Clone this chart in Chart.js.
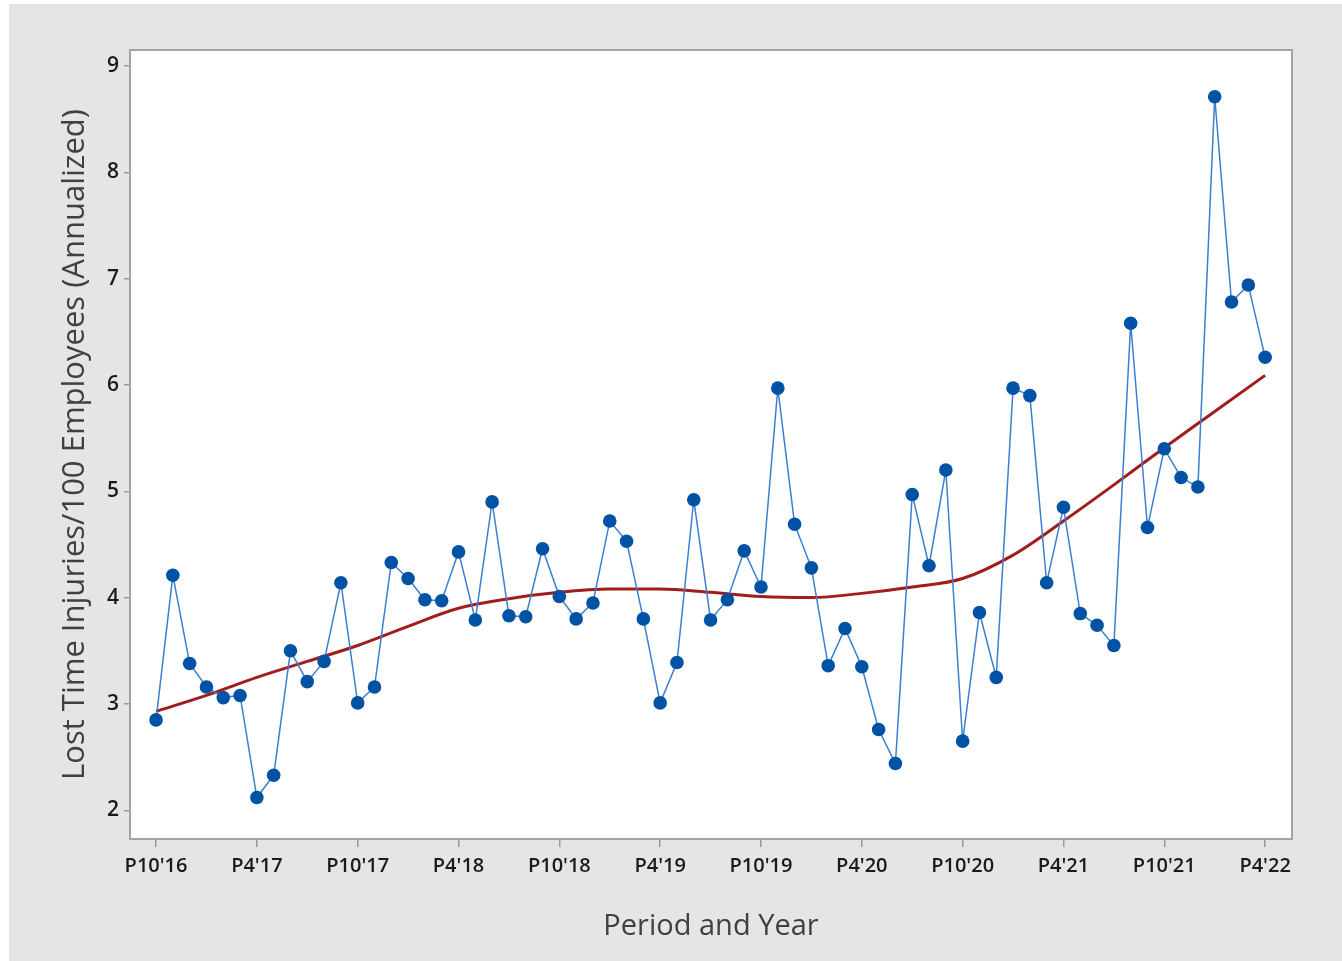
<!DOCTYPE html>
<html><head><meta charset="utf-8">
<script src="https://cdn.jsdelivr.net/npm/chart.js@4/dist/chart.umd.min.js"></script>
<style>html,body{margin:0;padding:0;background:#fff;}#wrap{width:1342px;height:961px;position:relative;}</style>
</head><body><div id="wrap"><canvas id="c"></canvas></div>
<script>
const tickLabels = ["P10'16","P4'17","P10'17","P4'18","P10'18","P4'19","P10'19","P4'20","P10'20","P4'21","P10'21","P4'22"];
const yTickValues = [2,3,4,5,6,7,8,9];
const injuryRates = [
  2.85,4.21,3.38,3.16,3.06,3.08,2.12,2.33,3.50,3.21,3.40,4.14,
  3.01,3.16,4.33,4.18,3.98,3.97,4.43,3.79,4.90,3.83,3.82,4.46,
  4.01,3.80,3.95,4.72,4.53,3.80,3.01,3.39,4.92,3.79,3.98,4.44,
  4.10,5.97,4.69,4.28,3.36,3.71,3.35,2.76,2.44,4.97,4.30,5.20,
  2.65,3.86,3.25,5.97,5.90,4.14,4.85,3.85,3.74,3.55,6.58,4.66,
  5.40,5.13,5.04,8.71,6.78,6.94,6.26
];
const trendPeriods = [0,3,6,9,12,15,18,21,24,27,30,33,36,39,42,45,48,51,54,57,60,63,66];
const trendValues  = [2.93,3.08,3.25,3.40,3.55,3.73,3.90,3.99,4.05,4.08,4.08,4.05,4.01,4.00,4.04,4.10,4.18,4.40,4.72,5.06,5.41,5.75,6.09];
const periodsPerTick = 6;

const FONT = "'Open Sans', 'Noto Sans', sans-serif";

const bgPlugin = {
  id: 'bg',
  beforeDraw(chart) {
    const {ctx, chartArea: a, width, height} = chart;
    ctx.save();
    ctx.fillStyle = '#ffffff';
    ctx.fillRect(0, 0, width, height);
    ctx.fillStyle = '#e5e5e5';
    ctx.fillRect(9, 4, width - 9, height - 4);
    ctx.fillStyle = '#ffffff';
    ctx.fillRect(a.left, a.top, a.right - a.left, a.bottom - a.top);
    ctx.restore();
  },
  afterDraw(chart) {
    const {ctx, chartArea: a} = chart;
    ctx.save();
    ctx.strokeStyle = '#a3a3a3';
    ctx.lineWidth = 2;
    ctx.strokeRect(a.left, a.top, a.right - a.left, a.bottom - a.top);
    ctx.restore();
  }
};

new Chart(document.getElementById('c'), {
  type: 'line',
  data: {
    datasets: [
      {
        label: 'Lost Time Injuries',
        data: injuryRates.map((v, i) => ({x: i, y: v})),
        borderColor: '#3b80cf',
        borderWidth: 1.5,
        pointRadius: 6.8,
        pointBackgroundColor: '#0052a4',
        pointBorderWidth: 0,
        tension: 0,
        order: 0
      },
      {
        label: 'Trend',
        data: trendPeriods.map((p, i) => ({x: p, y: trendValues[i]})),
        borderColor: '#a11d1d',
        borderWidth: 3,
        pointRadius: 0,
        cubicInterpolationMode: 'monotone',
        order: 1
      }
    ]
  },
  options: {
    responsive: true,
    maintainAspectRatio: false,
    animation: false,
    layout: {padding: {left: 9, top: 50, right: 50, bottom: 0}},
    plugins: {legend: {display: false}, tooltip: {enabled: false}},
    scales: {
      x: {
        type: 'linear',
        min: -1.55,
        max: 67.6,
        afterBuildTicks(axis) {
          axis.ticks = tickLabels.map((l, i) => ({value: i * periodsPerTick}));
        },
        afterFit(scale) { scale.height = 122; },
        ticks: {
          autoSkip: false,
          maxRotation: 0,
          padding: 7,
          color: '#1a1a1a',
          font: {family: FONT, size: 20, weight: '600'},
          callback: (v) => tickLabels[Math.round(v / periodsPerTick)]
        },
        grid: {drawOnChartArea: false, drawTicks: true, tickLength: 8, color: '#9a9a9a', lineWidth: 1.5},
        border: {display: false},
        title: {
          display: true,
          text: 'Period and Year',
          color: '#404040',
          font: {family: FONT, size: 29, weight: '500'},
          padding: {top: 0, bottom: 17}
        }
      },
      y: {
        type: 'linear',
        min: 1.73,
        max: 9.15,
        afterBuildTicks(axis) {
          axis.ticks = yTickValues.map(v => ({value: v}));
        },
        afterFit(scale) { scale.width = 121; },
        ticks: {
          padding: 5,
          color: '#1a1a1a',
          font: {family: FONT, size: 21, weight: '600'}
        },
        grid: {drawOnChartArea: false, drawTicks: true, tickLength: 6, color: '#9a9a9a', lineWidth: 1.5},
        border: {display: false},
        title: {
          display: true,
          text: 'Lost Time Injuries/100 Employees (Annualized)',
          color: '#404040',
          font: {family: FONT, size: 31, weight: '500'},
          padding: {top: 48, bottom: 0}
        }
      }
    }
  },
  plugins: [bgPlugin]
});
</script>
</body></html>
